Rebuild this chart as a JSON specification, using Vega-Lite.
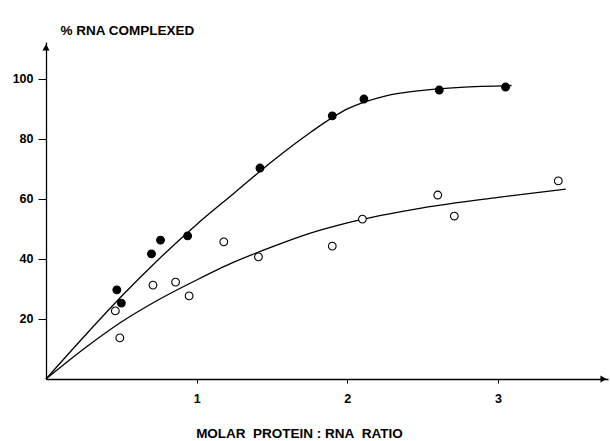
{
  "$schema": "https://vega.github.io/schema/vega-lite/v6.json",
  "width": 562,
  "height": 337,
  "autosize": "none",
  "padding": {"left": 46, "top": 42, "right": 2, "bottom": 62},
  "background": "white",
  "config": {
    "view": {"stroke": null},
    "font": "Liberation Sans",
    "axis": {"grid": false, "domainColor": "black", "domainWidth": 1.3, "tickColor": "black", "labelColor": "black", "labelFont": "Liberation Sans", "labelFontWeight": "bold", "labelFontSize": 12.5, "titleFont": "Liberation Sans", "titleFontWeight": "bold", "titleFontSize": 13.5, "titleColor": "black"}
  },
  "datasets": {
    "pts": [
      {"x": 0.47, "y": 29.7, "s": "filled"},
      {"x": 0.50, "y": 25.3, "s": "filled"},
      {"x": 0.70, "y": 41.7, "s": "filled"},
      {"x": 0.76, "y": 46.3, "s": "filled"},
      {"x": 0.94, "y": 47.7, "s": "filled"},
      {"x": 1.42, "y": 70.3, "s": "filled"},
      {"x": 1.90, "y": 87.7, "s": "filled"},
      {"x": 2.11, "y": 93.3, "s": "filled"},
      {"x": 2.61, "y": 96.3, "s": "filled"},
      {"x": 3.05, "y": 97.3, "s": "filled"},
      {"x": 0.46, "y": 22.7, "s": "open"},
      {"x": 0.49, "y": 13.7, "s": "open"},
      {"x": 0.71, "y": 31.3, "s": "open"},
      {"x": 0.86, "y": 32.3, "s": "open"},
      {"x": 0.95, "y": 27.7, "s": "open"},
      {"x": 1.18, "y": 45.7, "s": "open"},
      {"x": 1.41, "y": 40.7, "s": "open"},
      {"x": 1.90, "y": 44.3, "s": "open"},
      {"x": 2.10, "y": 53.3, "s": "open"},
      {"x": 2.60, "y": 61.3, "s": "open"},
      {"x": 2.71, "y": 54.3, "s": "open"},
      {"x": 3.40, "y": 66.0, "s": "open"}
    ],
    "curves": [
      {"x": 0, "y": 0, "s": "filled"},
      {"x": 0.25, "y": 14, "s": "filled"},
      {"x": 0.5, "y": 27.5, "s": "filled"},
      {"x": 0.75, "y": 40, "s": "filled"},
      {"x": 1.0, "y": 51.5, "s": "filled"},
      {"x": 1.25, "y": 62, "s": "filled"},
      {"x": 1.5, "y": 72.5, "s": "filled"},
      {"x": 1.75, "y": 82, "s": "filled"},
      {"x": 2.0, "y": 90, "s": "filled"},
      {"x": 2.25, "y": 94.3, "s": "filled"},
      {"x": 2.5, "y": 96.2, "s": "filled"},
      {"x": 2.75, "y": 97.2, "s": "filled"},
      {"x": 3.09, "y": 97.8, "s": "filled"},
      {"x": 0, "y": 0, "s": "open"},
      {"x": 0.25, "y": 10, "s": "open"},
      {"x": 0.5, "y": 19, "s": "open"},
      {"x": 0.75, "y": 26.5, "s": "open"},
      {"x": 1.0, "y": 33, "s": "open"},
      {"x": 1.25, "y": 39, "s": "open"},
      {"x": 1.5, "y": 44, "s": "open"},
      {"x": 1.75, "y": 48.5, "s": "open"},
      {"x": 2.0, "y": 52, "s": "open"},
      {"x": 2.5, "y": 57, "s": "open"},
      {"x": 3.0, "y": 60.5, "s": "open"},
      {"x": 3.45, "y": 63.3, "s": "open"}
    ],
    "arrows": [
      {"x": 3.70, "y": 0, "shape": "triangle-right"},
      {"x": 0, "y": 110.5, "shape": "triangle-up"}
    ]
  },
  "layer": [
    {
      "data": {"name": "curves"},
      "mark": {"type": "line", "color": "black", "strokeWidth": 1.3, "interpolate": "monotone", "clip": false},
      "encoding": {
        "x": {"field": "x", "type": "quantitative", "scale": {"domain": [0, 3.73], "nice": false, "zero": true},
          "axis": {"values": [1, 2, 3], "format": "d", "tickSize": 4, "labelPadding": 9, "title": "MOLAR\u00a0\u00a0PROTEIN\u00a0:\u00a0RNA\u00a0\u00a0RATIO", "titleX": 253, "titleY": 58, "titleBaseline": "alphabetic", "titleAnchor": "middle", "titleAlign": "center"}},
        "y": {"field": "y", "type": "quantitative", "scale": {"domain": [0, 112.3], "nice": false},
          "axis": {"values": [20, 40, 60, 80, 100], "tickSize": 8, "labelPadding": 5, "title": "% RNA  COMPLEXED", "titleAngle": 0, "titleX": 14, "titleY": -8, "titleAlign": "left", "titleBaseline": "alphabetic"}},
        "detail": {"field": "s"}
      }
    },
    {
      "data": {"name": "pts"},
      "mark": {"type": "point", "size": 60, "strokeWidth": 1.1, "opacity": 1},
      "encoding": {
        "x": {"field": "x", "type": "quantitative"},
        "y": {"field": "y", "type": "quantitative"},
        "stroke": {"value": "black"},
        "fill": {"field": "s", "type": "nominal", "scale": {"domain": ["filled", "open"], "range": ["black", "white"]}, "legend": null}
      }
    },
    {
      "data": {"name": "arrows"},
      "mark": {"type": "point", "filled": true, "color": "black", "size": 50, "opacity": 1, "clip": false},
      "encoding": {
        "x": {"field": "x", "type": "quantitative"},
        "y": {"field": "y", "type": "quantitative"},
        "shape": {"field": "shape", "type": "nominal", "scale": null}
      }
    }
  ]
}
